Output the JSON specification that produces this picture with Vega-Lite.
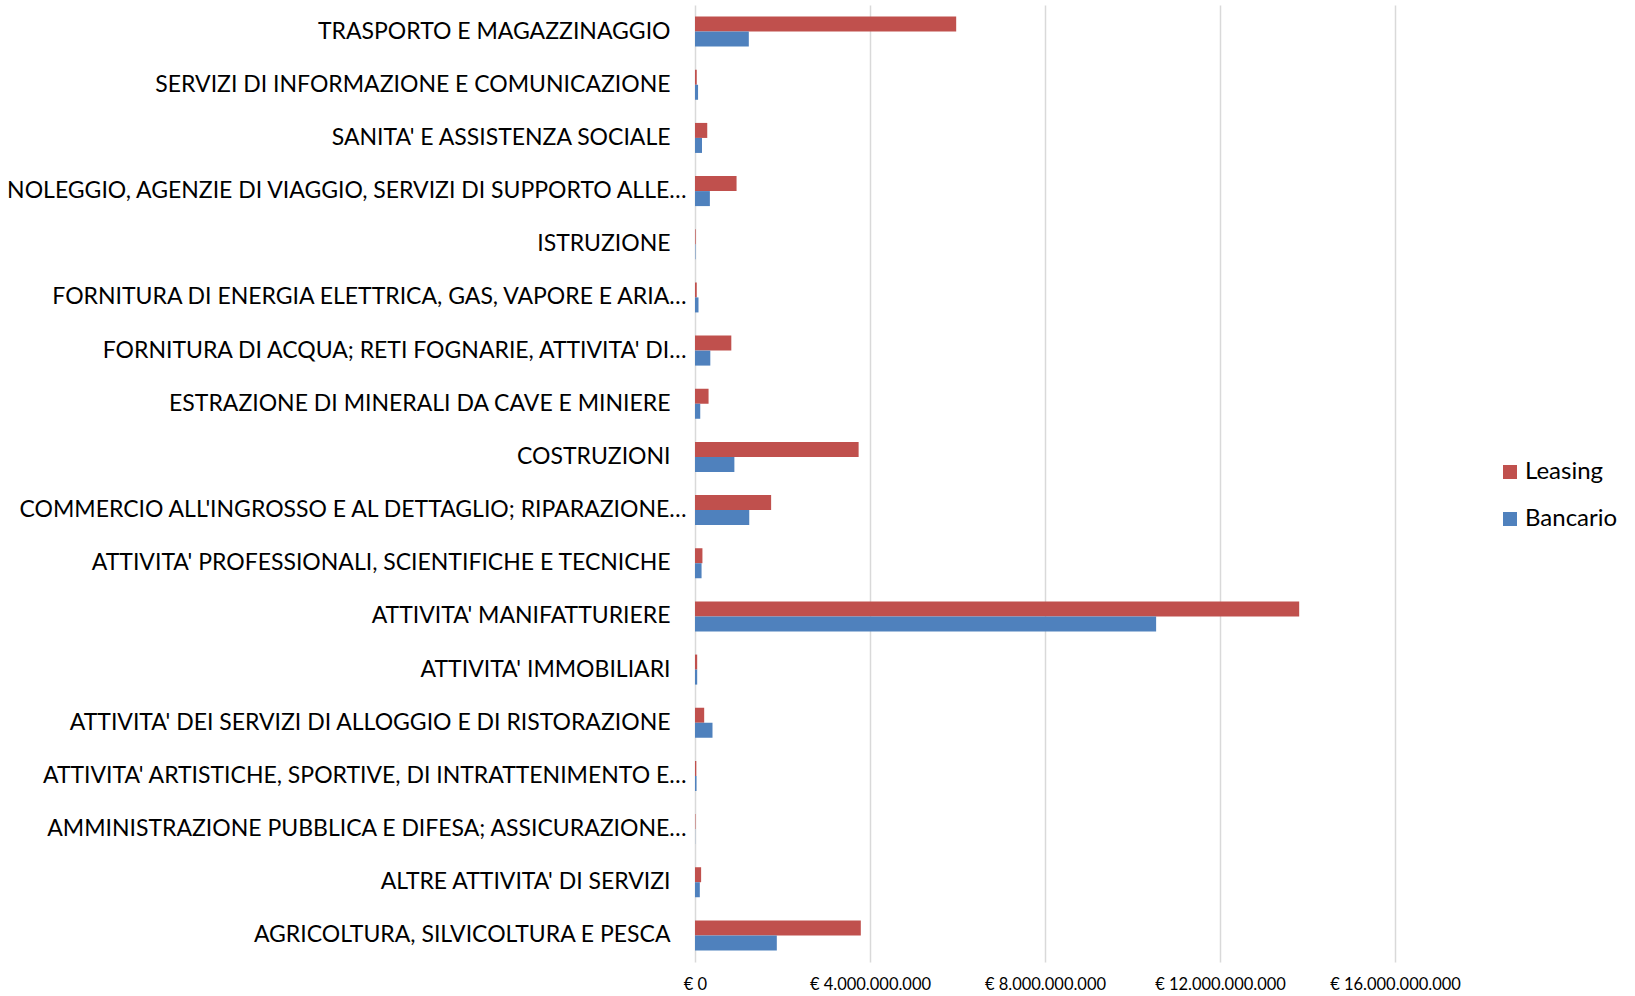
{
  "$schema": "https://vega.github.io/schema/vega-lite/v6.json",
  "autosize": {"type": "none"},
  "width": 700,
  "height": 957,
  "padding": {"left": 695, "top": 5, "right": 240, "bottom": 34},
  "background": "white",
  "config": {
    "view": {"stroke": null},
    "font": "Lato",
    "locale": {"number": {"decimal": ",", "thousands": ".", "grouping": [3], "currency": ["€ ", ""]}}
  },
  "data": {"values": [
    {"category": "TRASPORTO E MAGAZZINAGGIO", "type": "Leasing", "value": 5970000000},
    {"category": "TRASPORTO E MAGAZZINAGGIO", "type": "Bancario", "value": 1230000000},
    {"category": "SERVIZI DI INFORMAZIONE E COMUNICAZIONE", "type": "Leasing", "value": 40000000},
    {"category": "SERVIZI DI INFORMAZIONE E COMUNICAZIONE", "type": "Bancario", "value": 70000000},
    {"category": "SANITA' E ASSISTENZA SOCIALE", "type": "Leasing", "value": 280000000},
    {"category": "SANITA' E ASSISTENZA SOCIALE", "type": "Bancario", "value": 160000000},
    {"category": "NOLEGGIO, AGENZIE DI VIAGGIO, SERVIZI DI SUPPORTO ALLE…", "type": "Leasing", "value": 950000000},
    {"category": "NOLEGGIO, AGENZIE DI VIAGGIO, SERVIZI DI SUPPORTO ALLE…", "type": "Bancario", "value": 340000000},
    {"category": "ISTRUZIONE", "type": "Leasing", "value": 15000000},
    {"category": "ISTRUZIONE", "type": "Bancario", "value": 10000000},
    {"category": "FORNITURA DI ENERGIA ELETTRICA, GAS, VAPORE E ARIA…", "type": "Leasing", "value": 40000000},
    {"category": "FORNITURA DI ENERGIA ELETTRICA, GAS, VAPORE E ARIA…", "type": "Bancario", "value": 80000000},
    {"category": "FORNITURA DI ACQUA; RETI FOGNARIE, ATTIVITA' DI…", "type": "Leasing", "value": 830000000},
    {"category": "FORNITURA DI ACQUA; RETI FOGNARIE, ATTIVITA' DI…", "type": "Bancario", "value": 350000000},
    {"category": "ESTRAZIONE DI MINERALI DA CAVE E MINIERE", "type": "Leasing", "value": 310000000},
    {"category": "ESTRAZIONE DI MINERALI DA CAVE E MINIERE", "type": "Bancario", "value": 120000000},
    {"category": "COSTRUZIONI", "type": "Leasing", "value": 3740000000},
    {"category": "COSTRUZIONI", "type": "Bancario", "value": 900000000},
    {"category": "COMMERCIO ALL'INGROSSO E AL DETTAGLIO; RIPARAZIONE…", "type": "Leasing", "value": 1740000000},
    {"category": "COMMERCIO ALL'INGROSSO E AL DETTAGLIO; RIPARAZIONE…", "type": "Bancario", "value": 1240000000},
    {"category": "ATTIVITA' PROFESSIONALI, SCIENTIFICHE E TECNICHE", "type": "Leasing", "value": 170000000},
    {"category": "ATTIVITA' PROFESSIONALI, SCIENTIFICHE E TECNICHE", "type": "Bancario", "value": 150000000},
    {"category": "ATTIVITA' MANIFATTURIERE", "type": "Leasing", "value": 13810000000},
    {"category": "ATTIVITA' MANIFATTURIERE", "type": "Bancario", "value": 10540000000},
    {"category": "ATTIVITA' IMMOBILIARI", "type": "Leasing", "value": 50000000},
    {"category": "ATTIVITA' IMMOBILIARI", "type": "Bancario", "value": 50000000},
    {"category": "ATTIVITA' DEI SERVIZI DI ALLOGGIO E DI RISTORAZIONE", "type": "Leasing", "value": 210000000},
    {"category": "ATTIVITA' DEI SERVIZI DI ALLOGGIO E DI RISTORAZIONE", "type": "Bancario", "value": 400000000},
    {"category": "ATTIVITA' ARTISTICHE, SPORTIVE, DI INTRATTENIMENTO E…", "type": "Leasing", "value": 30000000},
    {"category": "ATTIVITA' ARTISTICHE, SPORTIVE, DI INTRATTENIMENTO E…", "type": "Bancario", "value": 35000000},
    {"category": "AMMINISTRAZIONE PUBBLICA E DIFESA; ASSICURAZIONE…", "type": "Leasing", "value": 10000000},
    {"category": "AMMINISTRAZIONE PUBBLICA E DIFESA; ASSICURAZIONE…", "type": "Bancario", "value": 3000000},
    {"category": "ALTRE ATTIVITA' DI SERVIZI", "type": "Leasing", "value": 140000000},
    {"category": "ALTRE ATTIVITA' DI SERVIZI", "type": "Bancario", "value": 110000000},
    {"category": "AGRICOLTURA, SILVICOLTURA E PESCA", "type": "Leasing", "value": 3790000000},
    {"category": "AGRICOLTURA, SILVICOLTURA E PESCA", "type": "Bancario", "value": 1870000000}
  ]},
  "mark": {"type": "bar"},
  "encoding": {
    "y": {
      "field": "category", "type": "nominal", "sort": null,
      "scale": {"paddingInner": 0.4355, "paddingOuter": 0.218},
      "axis": {"title": null, "domain": false, "ticks": false, "labelFontSize": 23, "labelColor": "#000000", "labelLimit": 800,
        "labelPadding": {"condition": {"test": "indexof(datum.label, '…') >= 0", "value": 9}, "value": 25}}
    },
    "yOffset": {"field": "type", "type": "nominal", "sort": ["Leasing", "Bancario"], "scale": {"paddingInner": 0, "paddingOuter": 0}},
    "x": {
      "field": "value", "type": "quantitative",
      "scale": {"domain": [0, 16000000000], "nice": false},
      "axis": {"title": null, "domain": false, "ticks": false, "values": [0, 4000000000, 8000000000, 12000000000, 16000000000], "format": "$,d", "labelFontSize": 16.5, "labelColor": "#000000", "labelPadding": 14, "labelOverlap": false, "labelFlush": false, "gridColor": "#D9D9D9", "gridWidth": 1.5}
    },
    "color": {
      "field": "type", "type": "nominal",
      "scale": {"domain": ["Leasing", "Bancario"], "range": ["#C0504D", "#4F81BD"]},
      "legend": {"title": null, "orient": "none", "legendX": 803, "legendY": 455, "symbolType": "square", "symbolSize": 196, "symbolStrokeWidth": 0, "labelFontSize": 24, "labelColor": "#000000", "rowPadding": 23, "labelOffset": 3}
    }
  }
}
